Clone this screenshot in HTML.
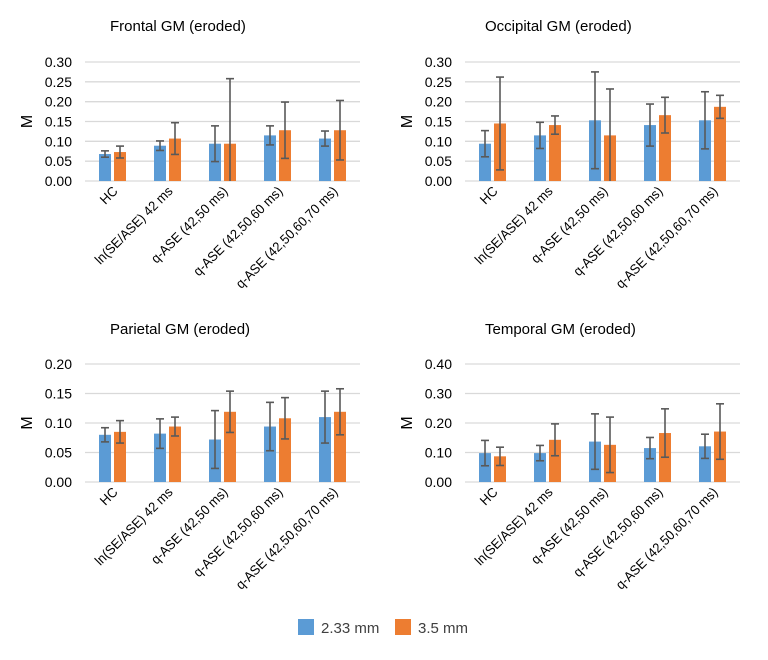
<!DOCTYPE html>
<html><head><meta charset="utf-8"><style>
html,body{margin:0;padding:0;background:#fff;}
svg{display:block;font-family:"Liberation Sans",sans-serif;}
</style></head><body>
<svg id="chart" width="768" height="660" viewBox="0 0 768 660" xmlns="http://www.w3.org/2000/svg">
<rect width="768" height="660" fill="#fff"/>
<g id="legend">
<rect x="298" y="619" width="16" height="16" fill="#5b9bd5"/>
<text x="321" y="633" font-size="15" fill="#404040">2.33 mm</text>
<rect x="395" y="619" width="16" height="16" fill="#ed7d31"/>
<text x="418" y="633" font-size="15" fill="#404040">3.5 mm</text>
</g>
</svg>
<script>
const categories = ["HC","ln(SE/ASE) 42 ms","q-ASE (42,50 ms)","q-ASE (42,50,60 ms)","q-ASE (42,50,60,70 ms)"];
const titles = ["Frontal GM (eroded)","Occipital GM (eroded)","Parietal GM (eroded)","Temporal GM (eroded)"];
const frontalBlue = [0.068,0.089,0.094,0.115,0.107];
const frontalBlueErr = [0.008,0.012,0.045,0.024,0.019];
const frontalOrange = [0.073,0.107,0.094,0.128,0.128];
const frontalOrangeErr = [0.015,0.040,0.164,0.071,0.075];
const occipitalBlue = [0.094,0.115,0.153,0.141,0.153];
const occipitalBlueErr = [0.033,0.033,0.122,0.053,0.072];
const occipitalOrange = [0.145,0.141,0.115,0.166,0.187];
const occipitalOrangeErr = [0.117,0.023,0.117,0.045,0.029];
const parietalBlue = [0.080,0.082,0.072,0.094,0.110];
const parietalBlueErr = [0.012,0.025,0.049,0.041,0.044];
const parietalOrange = [0.085,0.094,0.119,0.108,0.119];
const parietalOrangeErr = [0.019,0.016,0.035,0.035,0.039];
const temporalBlue = [0.098,0.098,0.137,0.115,0.121];
const temporalBlueErr = [0.043,0.026,0.094,0.036,0.041];
const temporalOrange = [0.087,0.143,0.126,0.166,0.171];
const temporalOrangeErr = [0.031,0.054,0.094,0.082,0.094];
const ticksA = ["0.00","0.05","0.10","0.15","0.20","0.25","0.30"];
const ticksB = ["0.00","0.05","0.10","0.15","0.20"];
const ticksC = ["0.00","0.10","0.20","0.30","0.40"];

const NS="http://www.w3.org/2000/svg";
const svg=document.getElementById('chart');
function mk(tag,attrs,parent){const e=document.createElementNS(NS,tag);for(const k in attrs)e.setAttribute(k,attrs[k]);(parent||svg).appendChild(e);return e;}

const panels=[
 {x0:85,x1:360,yTop:62,yBot:181,ticks:ticksA,blue:frontalBlue,be:frontalBlueErr,orange:frontalOrange,oe:frontalOrangeErr,tx:110,ty:31,name:'frontal'},
 {x0:465,x1:740,yTop:62,yBot:181,ticks:ticksA,blue:occipitalBlue,be:occipitalBlueErr,orange:occipitalOrange,oe:occipitalOrangeErr,tx:485,ty:31,name:'occipital'},
 {x0:85,x1:360,yTop:364,yBot:482,ticks:ticksB,blue:parietalBlue,be:parietalBlueErr,orange:parietalOrange,oe:parietalOrangeErr,tx:110,ty:334,name:'parietal'},
 {x0:465,x1:740,yTop:364,yBot:482,ticks:ticksC,blue:temporalBlue,be:temporalBlueErr,orange:temporalOrange,oe:temporalOrangeErr,tx:485,ty:334,name:'temporal'}
];
panels.forEach(p=>{
 const g=mk('g',{});
 
 
 const max=parseFloat(p.ticks[p.ticks.length-1]);
 const y=v=>p.yBot-(Math.max(0,Math.min(max,v))/max)*(p.yBot-p.yTop);
 const step=(p.x1-p.x0)/categories.length;
 const cx=i=>p.x0+step*(i+0.5);
 const t=mk('text',{x:p.tx,y:p.ty,'font-size':15,fill:'#000'},g);
 t.textContent=titles[panels.indexOf(p)];
 
 
 p.ticks.forEach(tk=>{
  const v=parseFloat(tk);
  const gl=mk('line',{x1:p.x0,x2:p.x1,y1:y(v),y2:y(v),stroke:'#d9d9d9','stroke-width':1.3},g);
  
  
  const tl=mk('text',{x:p.x0-13,y:y(v)+5,'font-size':14,fill:'#000','text-anchor':'end'},g);
  tl.textContent=tk;
  
  
 });
 const ym=(p.yTop+p.yBot)/2;
 const ax=p.x0-53;
 const yt=mk('text',{x:ax,y:ym,'font-size':16,fill:'#000','text-anchor':'middle',transform:`rotate(-90 ${ax} ${ym})`},g);
 yt.textContent='M';
 
 
 categories.forEach((c,i)=>{
  [[p.blue,p.be,'#5b9bd5',-7.5,'blue'],[p.orange,p.oe,'#ed7d31',7.5,'orange']].forEach(s=>{
   const v=s[0][i],e=s[1][i],bx=cx(i)+s[3];
   const r=mk('rect',{x:bx-6,y:y(v),width:12,height:p.yBot-y(v),fill:s[2]},g);
   
   
   const eg=mk('g',{stroke:'#595959','stroke-width':1.6},g);
   
   
   const hi=y(v+e),lo=y(v-e);
   mk('line',{x1:bx,x2:bx,y1:hi,y2:lo},eg);
   mk('line',{x1:bx-4,x2:bx+4,y1:hi,y2:hi},eg);
   if(v-e>0) mk('line',{x1:bx-4,x2:bx+4,y1:lo,y2:lo},eg);
  });
  const lx=cx(i)+6,ly=p.yBot+11;
  const cl=mk('text',{x:lx,y:ly,'font-size':13.5,fill:'#000','text-anchor':'end',transform:`rotate(-45 ${lx} ${ly})`},g);
  cl.textContent=c;
  
  
  const w=cl.getComputedTextLength();
  if(w>0){cl.setAttribute('textLength',(w*0.95).toFixed(1));cl.setAttribute('lengthAdjust','spacingAndGlyphs');}
 });
});
</script>
</body></html>
